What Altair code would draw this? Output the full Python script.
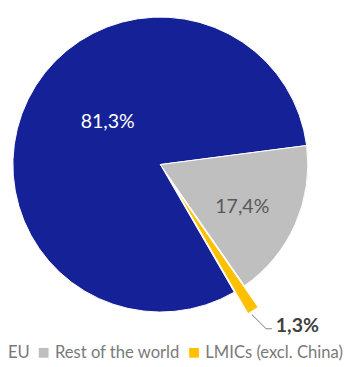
import math
import altair as alt
import pandas as pd

categories = ["EU", "Rest of the world", "LMICs (excl. China)"]
shares = [81.3, 17.4, 1.3]
labels = ["81,3%", "17,4%", "1,3%"]
colors = ["#152196", "#bfbfbf", "#ffc000"]

df = pd.DataFrame({
    "category": categories,
    "share": shares,
    "label": labels,
    "rank": list(range(len(categories))),
})

start = math.radians(149.9)
theta = alt.Theta("share:Q", stack=True,
                  scale=alt.Scale(domain=[0, 100], range=[start, start + 2 * math.pi]))
order = alt.Order("rank:Q", sort="ascending")
color = alt.Color("category:N",
                  scale=alt.Scale(domain=categories, range=colors),
                  sort=categories,
                  legend=alt.Legend(title=None, orient="none", direction="horizontal",
                                    legendX=-20, legendY=340,
                                    symbolType="square", symbolSize=100,
                                    symbolStrokeWidth=0,
                                    labelFontSize=17, labelFont="Lato",
                                    labelColor="#7a7a7a", labelOffset=3,
                                    columnPadding=5, labelLimit=300))

CX, CY, R = 156, 156, 151
base = alt.Chart(df)

pie = base.mark_arc(outerRadius=R, stroke="white", strokeWidth=1).encode(
    theta=theta, order=order, color=color,
    opacity=alt.condition(alt.datum.category == "LMICs (excl. China)", alt.value(0), alt.value(1)),
    x=alt.value(CX), y=alt.value(CY),
)

explode = base.mark_arc(outerRadius=R, stroke="white", strokeWidth=1).encode(
    theta=theta, order=order, color=color,
    opacity=alt.condition(alt.datum.category == "LMICs (excl. China)", alt.value(1), alt.value(0)),
    x=alt.value(CX + 14), y=alt.value(CY + 22),
)

def label_layer(cat, radius, dx, dy, col, weight, size):
    return base.mark_text(radius=radius, dx=dx, dy=dy, color=col, fontWeight=weight,
                          fontSize=size, font="Lato").encode(
        theta=theta, order=order,
        text=alt.condition(alt.datum.category == cat, alt.Text("label:N"), alt.value("")),
        x=alt.value(CX), y=alt.value(CY),
    )

l1 = label_layer("EU", 69, 8, -13, "white", "normal", 20)
l2 = label_layer("Rest of the world", 95, -3, 5, "#595959", "normal", 20)
l3 = label_layer("LMICs (excl. China)", 213, 26, -14, "#404040", "bold", 20)

lead1 = base.mark_rule(color="#a6a6a6", strokeWidth=1).encode(
    x=alt.value(250), y=alt.value(310), x2=alt.value(264), y2=alt.value(324))
lead2 = base.mark_rule(color="#a6a6a6", strokeWidth=1).encode(
    x=alt.value(264), y=alt.value(324), x2=alt.value(270), y2=alt.value(324))

chart = alt.layer(pie, explode, lead1, lead2, l1, l2, l3).properties(
    width=344, height=359, autosize="none", padding=0
).configure_view(stroke=None)

chart.save("out.html", embed_options={"renderer": "svg", "actions": False})
